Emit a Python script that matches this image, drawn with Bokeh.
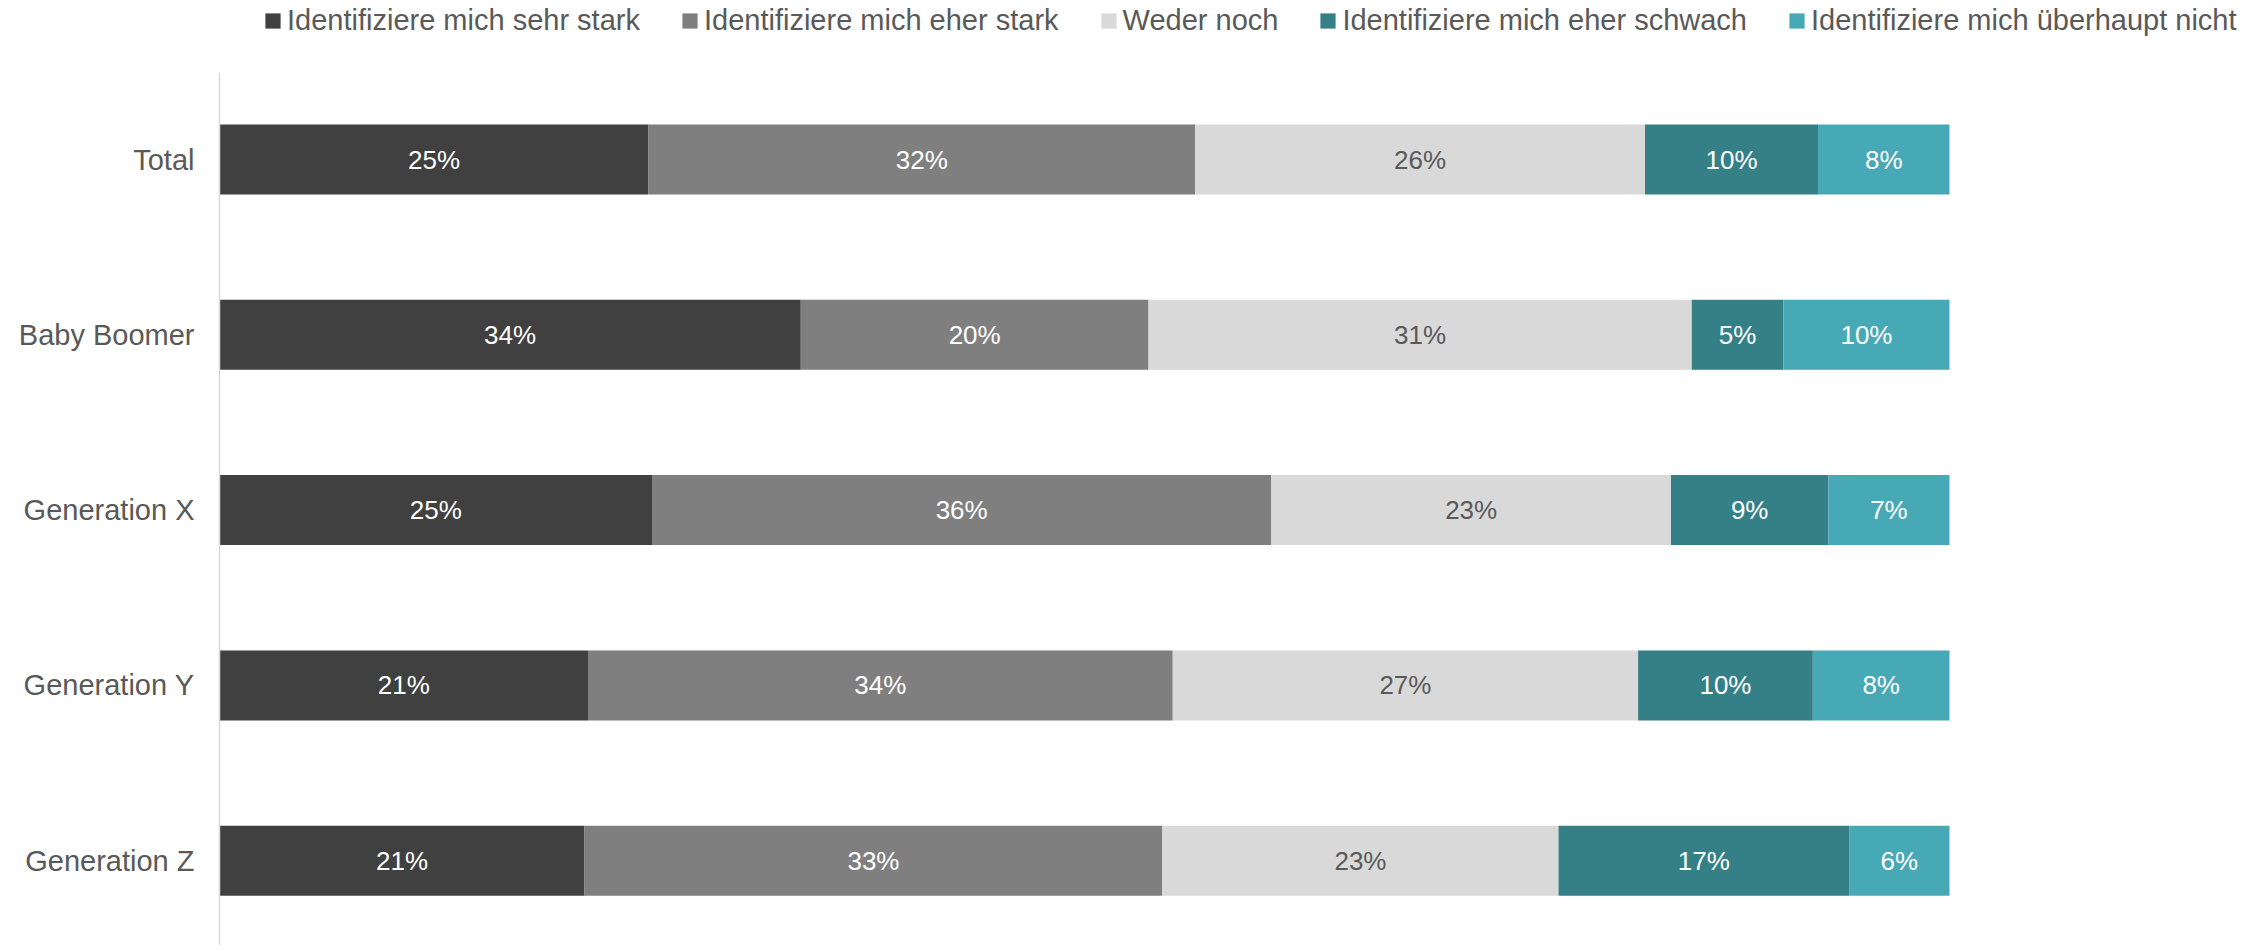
from bokeh.plotting import figure
from bokeh.models import ColumnDataSource, Legend, LegendItem, FixedTicker, Range1d
from bokeh.core.properties import value
from bokeh.embed import file_html
from bokeh.resources import INLINE

categories = ["Total", "Baby Boomer", "Generation X", "Generation Y", "Generation Z"]
series = [
    "Identifiziere mich sehr stark",
    "Identifiziere mich eher stark",
    "Weder noch",
    "Identifiziere mich eher schwach",
    "Identifiziere mich überhaupt nicht",
]
sehr_stark = [24.8, 33.6, 25.0, 21.3, 21.1]
eher_stark = [31.6, 20.1, 35.8, 33.8, 33.4]
weder_noch = [26.0, 31.4, 23.1, 26.9, 22.9]
eher_schwach = [10.0, 5.3, 9.1, 10.1, 16.8]
ueberhaupt_nicht = [7.6, 9.6, 7.0, 7.9, 5.8]

colors = ["#404040", "#7F7F7F", "#D9D9D9", "#357F86", "#48A9B6"]
label_colors = ["#FFFFFF", "#FFFFFF", "#595959", "#FFFFFF", "#FFFFFF"]

FONT = "Liberation Sans"
values_list = [sehr_stark, eher_stark, weder_noch, eher_schwach, ueberhaupt_nicht]
keys = ["s0", "s1", "s2", "s3", "s4"]
ypos = list(range(len(categories)))

data = {"y": ypos}
for k, v in zip(keys, values_list):
    data[k] = v
source = ColumnDataSource(data)

W, H = 2260, 945
frame_left = 219
bar_right = 1949
px_per_unit = (bar_right - frame_left) / 100.0
x_end = (W - frame_left) / px_per_unit
row_px = 175.3
first_center = 159.0
axis_top_px = 72.0
y_top = -first_center / row_px
y_bottom = y_top + H / row_px

p = figure(width=W, height=H, output_backend="svg", toolbar_location=None,
           x_range=Range1d(0, x_end), y_range=Range1d(y_bottom, y_top),
           x_axis_location=None, min_border_left=frame_left, min_border_top=0,
           min_border_right=0, min_border_bottom=0)
p.outline_line_color = None
p.grid.visible = False
p.background_fill_color = "white"
p.border_fill_color = "white"

renderers = p.hbar_stack(keys, y="y", height=70 / row_px, color=colors,
                         line_color=None, source=source)

# labels
lx, ly, lt, lc = [], [], [], []
for i in range(len(categories)):
    cum = 0.0
    for j, v in enumerate(values_list):
        val = v[i]
        lx.append(cum + val / 2)
        ly.append(i)
        lt.append(f"{round(val)}%")
        lc.append(label_colors[j])
        cum += val
lsrc = ColumnDataSource(dict(x=lx, y=ly, t=lt, c=lc))
p.text(x="x", y="y", text="t", text_color="c", source=lsrc, text_align="center",
       text_baseline="middle", text_font=value(FONT), text_font_size="26px")

ax = p.yaxis[0]
ax.ticker = FixedTicker(ticks=ypos)
ax.major_label_overrides = {i: c for i, c in enumerate(categories)}
ax.bounds = (-(first_center - axis_top_px) / row_px, y_bottom)
ax.major_tick_line_color = None
ax.minor_tick_line_color = None
ax.major_tick_out = 0
ax.major_tick_in = 0
ax.axis_line_color = "#D9D9D9"
ax.axis_line_width = 1.5
ax.major_label_standoff = 25
ax.major_label_text_font = FONT
ax.major_label_text_font_size = "29px"
ax.major_label_text_color = "#595959"

legend_h = 34
legend = Legend(items=[LegendItem(label=s, renderers=[r]) for s, r in zip(series, renderers)],
                orientation="horizontal", location=(44, H - (19.5 + legend_h / 2)),
                padding=0, margin=0, spacing=40, label_standoff=5,
                glyph_width=19, glyph_height=19,
                label_text_font=FONT, label_text_font_size="29px",
                label_text_color="#595959", border_line_color=None,
                background_fill_alpha=0)
p.add_layout(legend)

open("out.html", "w").write(file_html(p, INLINE))
